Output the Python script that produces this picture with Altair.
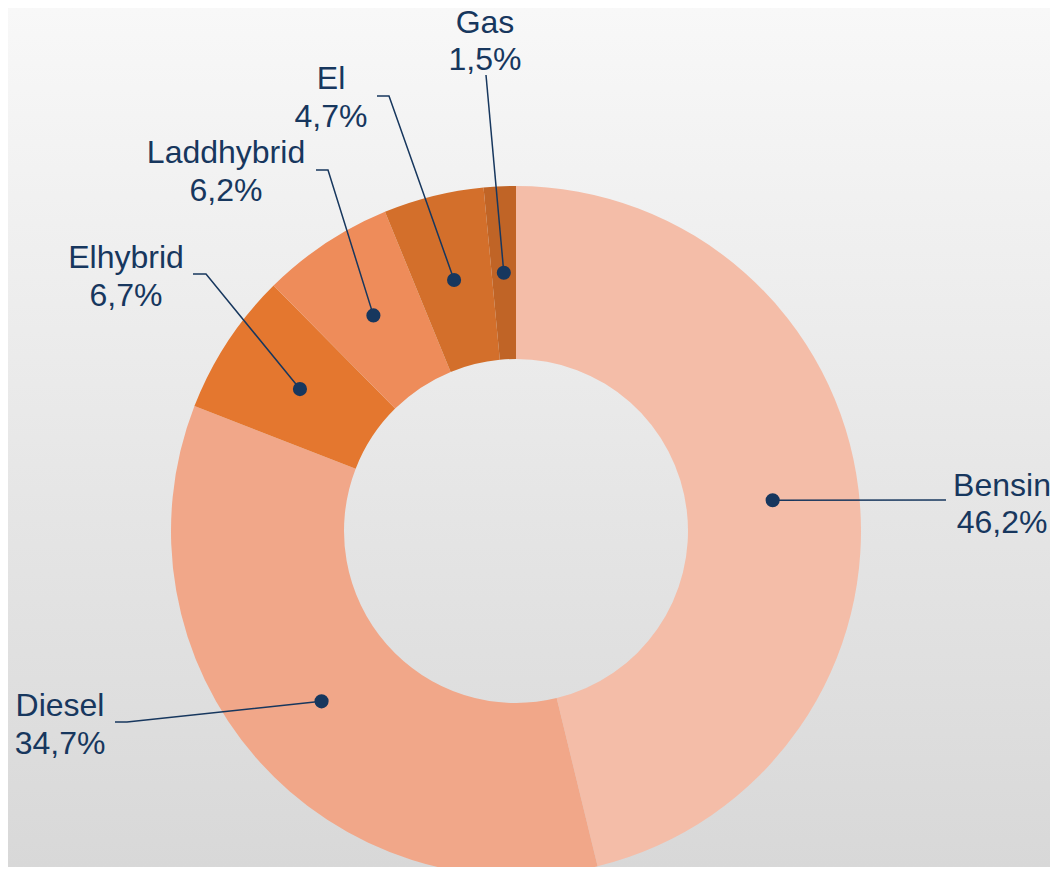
import math
import altair as alt
import pandas as pd

# ---------------- data ----------------
fuels = ["Bensin", "Diesel", "Elhybrid", "Laddhybrid", "El", "Gas"]
shares = [46.2, 34.7, 6.7, 6.2, 4.7, 1.5]
share_labels = ["46,2%", "34,7%", "6,7%", "6,2%", "4,7%", "1,5%"]

# ---------------- styles ----------------
colors = ["#f4bda8", "#f1a789", "#e4772f", "#ee8c5a", "#d36f2b", "#c06426"]
NAVY = "#17375e"
FONT = "Liberation Sans"

# ---------------- layout (image pixels) ----------------
W, H = 1042, 859
OFF = 8
CX, CY = 516, 531
R_OUT, R_IN = 345, 172
R_DOT = (R_OUT + R_IN) / 2
label_xy = [(1002, 495.5), (60, 716), (126, 268), (226, 163), (331, 89), (485, 32.5)]
leader_elbow = [(946, 500), (127, 722), (206, 274), (328, 170), (389, 96), (486, 75)]
leader_end = [(946, 500), (115, 722), (193, 274), (316, 170), (377, 96), (486, 75)]

# ---------------- derived tables ----------------
total = sum(shares)
slices = pd.DataFrame({"fuel": fuels, "share": shares, "idx": list(range(len(fuels)))})

dots_rows, line_rows, text_rows = [], [], []
cum = 0.0
for i, (f, s) in enumerate(zip(fuels, shares)):
    a = (cum + s / 2) / total * 2 * math.pi
    cum += s
    dx = CX + R_DOT * math.sin(a)
    dy = CY - R_DOT * math.cos(a)
    dots_rows.append({"fuel": f, "x": dx, "y": dy})
    pts = [(dx, dy), leader_elbow[i], leader_end[i]]
    for k, (px, py) in enumerate(pts):
        line_rows.append({"fuel": f, "x": px, "y": py, "ord": k})
    text_rows.append({"fuel": f, "x": label_xy[i][0], "y": label_xy[i][1],
                      "label": f + "\n" + share_labels[i]})

dots_df = pd.DataFrame(dots_rows)
lines_df = pd.DataFrame(line_rows)
text_df = pd.DataFrame(text_rows)

xs = alt.Scale(domain=[OFF, OFF + W], nice=False, zero=False)
ys = alt.Scale(domain=[OFF, OFF + H], nice=False, zero=False, reverse=True)

grad = alt.Gradient(
    gradient="linear",
    stops=[alt.GradientStop(color="#f8f8f8", offset=0),
           alt.GradientStop(color="#d8d8d8", offset=1)],
    x1=0, x2=0, y1=0, y2=1,
)

bg = alt.Chart(pd.DataFrame({"a": [0]})).mark_rect(fill=grad).encode(
    x=alt.value(0), x2=alt.value(W), y=alt.value(0), y2=alt.value(H)
)

arc = alt.Chart(slices).mark_arc(innerRadius=R_IN, outerRadius=R_OUT).encode(
    theta=alt.Theta("share:Q", stack=True),
    order=alt.Order("idx:Q"),
    color=alt.Color("fuel:N", scale=alt.Scale(domain=fuels, range=colors), legend=None),
    x=alt.value(CX - OFF),
    y=alt.value(CY - OFF),
)

lines = alt.Chart(lines_df).mark_line(color=NAVY, strokeWidth=1.5).encode(
    x=alt.X("x:Q", scale=xs, axis=None),
    y=alt.Y("y:Q", scale=ys, axis=None),
    detail="fuel:N",
    order="ord:Q",
)

dots = alt.Chart(dots_df).mark_circle(size=200, color=NAVY, opacity=1).encode(
    x=alt.X("x:Q", scale=xs, axis=None),
    y=alt.Y("y:Q", scale=ys, axis=None),
)

texts = alt.Chart(text_df).mark_text(
    font=FONT, fontSize=32, color=NAVY, align="center", baseline="alphabetic",
    lineBreak="\n", lineHeight=37.5,
).encode(
    x=alt.X("x:Q", scale=xs, axis=None),
    y=alt.Y("y:Q", scale=ys, axis=None),
    text="label:N",
)

chart = alt.layer(bg, arc, lines, dots, texts).properties(
    width=W, height=H, padding=0, autosize="none", background="#f8f8f8"
).configure_view(stroke=None)

chart.save("out.html", embed_options={"renderer": "svg", "actions": False})
